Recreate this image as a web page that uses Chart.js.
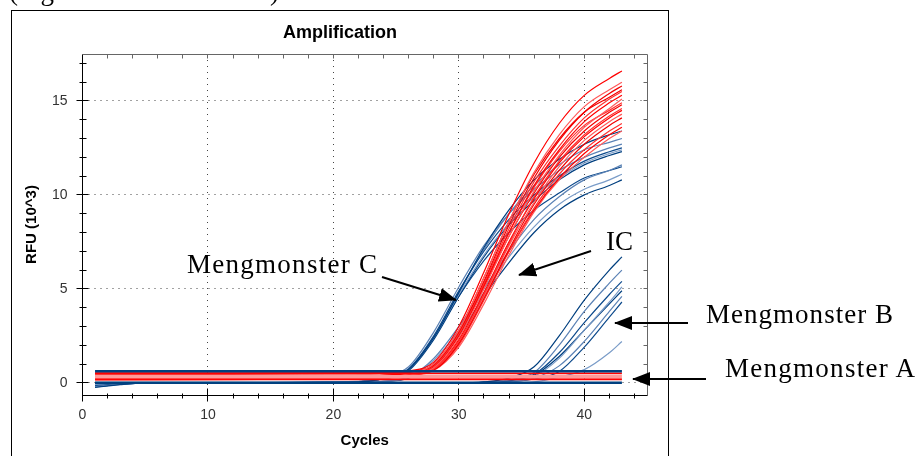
<!DOCTYPE html>
<html>
<head>
<meta charset="utf-8">
<title>Amplification</title>
<script src="https://cdn.jsdelivr.net/npm/chart.js@4.4.1/dist/chart.umd.min.js"></script>
<style>
  html, body { margin: 0; padding: 0; background: #fff; }
  #wrap { position: relative; width: 916px; height: 456px; overflow: hidden; }
  #frame { position: absolute; left: 11px; top: 10px; width: 656px; height: 470px; border: 1px solid #000; }
  #ampChart { position: absolute; left: 0; top: 0; }
  #notes { position: absolute; left: 0; top: 0; }
</style>
</head>
<body>
<div id="wrap">
  <div id="frame"></div>
  <canvas id="ampChart" width="916" height="456"></canvas>
  <svg id="notes" width="916" height="456">
    <defs>
      <marker id="head" viewBox="0 0 18 14" markerWidth="18" markerHeight="14" refX="17" refY="7" orient="auto" markerUnits="userSpaceOnUse">
        <path d="M0,0 L18,7 L0,14 Z" fill="#000"/>
      </marker>
    </defs>
    <g font-family="'Liberation Serif', 'Times New Roman', serif" font-size="27" fill="#000">
      <text x="9" y="0">(Figure</text>
      <text x="270" y="0">)</text>
      <text x="187" y="273" textLength="190" lengthAdjust="spacing">Mengmonster C</text>
      <text x="606" y="250">IC</text>
      <text x="706" y="323" textLength="187" lengthAdjust="spacing">Mengmonster B</text>
      <text x="725" y="377" textLength="190" lengthAdjust="spacing">Mengmonster A</text>
    </g>
    <g stroke="#000" stroke-width="2">
      <line x1="382" y1="277" x2="456" y2="300" marker-end="url(#head)"/>
      <line x1="591" y1="251" x2="519" y2="275" marker-end="url(#head)"/>
      <line x1="688" y1="323" x2="615" y2="323" marker-end="url(#head)"/>
      <line x1="706" y1="379" x2="633" y2="379" marker-end="url(#head)"/>
    </g>
  </svg>
</div>

<script>
// Axis tick labels
const xTickLabels = [0, 10, 20, 30, 40];
const yTickLabels = [0, 5, 10, 15];

const cyclesMain = [1, 12, 22, 24, 26, 28, 30, 32, 34, 36, 38, 40, 42, 43];
const cyclesB = [1, 3, 5, 30, 32, 34, 36, 38, 40, 42, 43];
const cyclesFlat = [1, 43];

// IC (internal control) curves, RFU x 10^3
const icCurves = [
    [0.50, 0.50, 0.51, 0.52, 0.62, 1.1, 3.0, 5.9, 9.0, 11.7, 13.8, 15.3, 16.2, 16.6],
    [0.20, 0.22, 0.25, 0.28, 0.48, 1.0, 2.8, 5.6, 8.6, 11.2, 13.2, 14.7, 15.6, 16.0],
    [0.48, 0.48, 0.50, 0.51, 0.58, 0.95, 2.7, 5.4, 8.4, 10.9, 12.9, 14.4, 15.4, 15.8],
    [0.18, 0.20, 0.24, 0.27, 0.45, 0.9, 2.6, 5.3, 8.2, 10.7, 12.6, 14.1, 15.1, 15.5],
    [0.50, 0.50, 0.51, 0.52, 0.60, 0.95, 2.6, 5.2, 8.0, 10.5, 12.4, 13.9, 14.9, 15.3],
    [0.15, 0.17, 0.21, 0.24, 0.42, 0.8, 2.4, 5.0, 7.8, 10.2, 12.1, 13.6, 14.6, 15.1],
    [0.47, 0.47, 0.49, 0.50, 0.56, 0.85, 2.5, 5.1, 7.8, 10.1, 12.0, 13.4, 14.4, 14.8],
    [0.22, 0.23, 0.26, 0.28, 0.42, 0.75, 2.2, 4.7, 7.4, 9.9, 11.8, 13.2, 14.2, 14.6],
    [0.50, 0.50, 0.51, 0.52, 0.57, 0.8, 2.3, 4.8, 7.5, 9.8, 11.7, 13.1, 14.1, 14.5],
    [0.16, 0.18, 0.22, 0.25, 0.40, 0.75, 2.2, 4.6, 7.3, 9.6, 11.5, 12.9, 13.9, 14.3],
    [0.49, 0.49, 0.50, 0.51, 0.55, 0.7, 2.1, 4.5, 7.1, 9.5, 11.3, 12.7, 13.7, 14.1],
    [0.24, 0.25, 0.27, 0.29, 0.40, 0.7, 2.0, 4.4, 7.0, 9.3, 11.1, 12.4, 13.4, 13.8],
    [0.36, 0.37, 0.38, 0.40, 0.48, 0.72, 2.1, 4.5, 7.0, 9.2, 10.9, 12.2, 13.2, 13.6],
    [0.19, 0.20, 0.23, 0.26, 0.38, 0.65, 1.9, 4.2, 6.8, 9.1, 10.8, 12.0, 13.0, 13.4],
    [0.37, 0.37, 0.39, 0.41, 0.52, 1.0, 2.8, 5.6, 8.6, 11.1, 13.0, 14.4, 15.2, 15.6],
    [0.51, 0.51, 0.52, 0.53, 0.60, 0.9, 2.6, 5.2, 8.0, 10.4, 12.3, 13.7, 14.5, 14.9]
];

// Mengmonster C curves
const mengCCurves = [
    [0.00, 0.00, 0.05, 0.22, 0.70, 2.4, 4.8, 7.2, 9.2, 10.8, 11.9, 12.7, 13.2, 13.4],
    [0.02, 0.02, 0.08, 0.30, 0.85, 2.7, 5.1, 7.3, 9.0, 10.3, 11.3, 12.0, 12.5, 12.7],
    [0.00, 0.01, 0.06, 0.25, 0.75, 2.5, 4.9, 7.0, 8.7, 10.0, 11.0, 11.8, 12.3, 12.5],
    [0.01, 0.01, 0.05, 0.22, 0.70, 2.4, 4.7, 6.8, 8.5, 9.9, 10.9, 11.7, 12.2, 12.4],
    [0.00, 0.00, 0.05, 0.20, 0.65, 2.3, 4.6, 6.7, 8.4, 9.7, 10.8, 11.6, 12.1, 12.3],
    [0.00, 0.00, 0.03, 0.08, 0.30, 1.3, 3.0, 5.0, 7.0, 8.7, 9.9, 10.8, 11.3, 11.6],
    [0.01, 0.01, 0.05, 0.22, 0.70, 2.4, 4.6, 6.5, 8.0, 9.2, 10.1, 10.9, 11.3, 11.5],
    [0.00, 0.00, 0.03, 0.08, 0.30, 1.2, 2.8, 4.8, 6.7, 8.3, 9.5, 10.3, 10.8, 11.1],
    [0.00, 0.00, 0.02, 0.07, 0.25, 1.0, 2.5, 4.6, 6.4, 8.0, 9.2, 10.0, 10.5, 10.8],
    [0.00, 0.00, 0.05, 0.22, 0.70, 2.4, 4.8, 7.1, 9.0, 10.5, 11.6, 12.4, 12.8, 13.0]
];

// Mengmonster B curves
const mengBCurves = [
    [-0.25, -0.10, -0.02, 0.00, 0.05, 0.25, 0.85, 2.5, 4.4, 6.0, 6.7],
    [-0.20, -0.08, -0.02, 0.00, 0.03, 0.15, 0.55, 2.0, 3.8, 5.3, 6.0],
    [-0.15, -0.06, -0.01, 0.00, 0.02, 0.12, 0.45, 1.6, 3.2, 4.7, 5.4],
    [-0.10, -0.04, 0.00, 0.00, 0.02, 0.10, 0.35, 1.3, 2.8, 4.3, 5.1],
    [-0.22, -0.09, -0.02, 0.00, 0.02, 0.10, 0.40, 1.4, 2.8, 4.2, 4.9],
    [-0.18, -0.07, -0.01, 0.00, 0.01, 0.05, 0.25, 0.9, 2.2, 3.8, 4.6],
    [-0.05, -0.02, 0.00, 0.00, 0.01, 0.05, 0.20, 0.6, 1.9, 3.5, 4.3],
    [-0.12, -0.05, -0.01, 0.00, 0.00, 0.00, 0.05, 0.3, 0.7, 1.6, 2.2]
];

// Mengmonster A (flat, no amplification)
const mengABlue = [0.62, 0.0];
const mengARed = [0.5, 0.18];
const mengAPink = [0.36, 0.26];

const blues = ['#003f7f', '#5b82b5', '#0d4a8c', '#7a9cc8'];
const reds = ['#ff0000', '#ff5a5a', '#f20000', '#ff3030'];
const sansFont = "'Liberation Sans', Arial, sans-serif";

function makeLine(xs, ys, color, width) {
    return {
        data: xs.map((x, i) => ({ x: x, y: ys[i] })),
        borderColor: color,
        borderWidth: width,
        pointRadius: 0,
        fill: false,
        cubicInterpolationMode: 'monotone'
    };
}

function flatLine(level, color, width) {
    return makeLine(cyclesFlat, cyclesFlat.map(() => level), color, width);
}

// datasets listed top-most first (Chart.js draws index 0 last)
const datasets = [];
mengABlue.forEach(v => datasets.push(flatLine(v, '#00407f', 2.5)));
mengARed.forEach(v => datasets.push(flatLine(v, '#ff0000', 1.8)));
mengAPink.forEach(v => datasets.push(flatLine(v, '#ff9a9a', 1.8)));
mengBCurves.forEach((ys, i) => datasets.push(makeLine(cyclesB, ys, blues[i % 4], 1.2)));
icCurves.forEach((ys, i) => datasets.push(makeLine(cyclesMain, ys, reds[i % 4], 1.2)));
mengCCurves.forEach((ys, i) => datasets.push(makeLine(cyclesMain, ys, blues[i % 4], 1.2)));

function strokeLine(ctx, x1, y1, x2, y2) {
    ctx.beginPath();
    ctx.moveTo(x1, y1);
    ctx.lineTo(x2, y2);
    ctx.stroke();
}

// dotted grid, plot border and tick marks
const axesFrame = {
    id: 'axesFrame',
    beforeDatasetsDraw(chart) {
        const { ctx, chartArea: a, scales: { x, y } } = chart;
        ctx.save();
        ctx.strokeStyle = '#444';
        ctx.lineWidth = 1;
        ctx.setLineDash([1, 5]);
        xTickLabels.forEach(v => {
            if (v === 0) return;
            const px = Math.floor(x.getPixelForValue(v)) + 0.5;
            strokeLine(ctx, px, a.top, px, a.bottom);
        });
        yTickLabels.forEach(v => {
            const py = Math.floor(y.getPixelForValue(v)) + 0.5;
            strokeLine(ctx, a.left, py, a.right, py);
        });
        ctx.restore();
    },
    afterDatasetsDraw(chart) {
        const { ctx, chartArea: a, scales: { x, y } } = chart;
        const L = Math.floor(a.left) + 0.5, R = Math.floor(a.right) + 0.5;
        const T = Math.floor(a.top) + 0.5, B = Math.floor(a.bottom) + 0.5;
        ctx.save();
        ctx.lineWidth = 1;
        ctx.strokeStyle = '#666';
        strokeLine(ctx, L, T, R, T);
        strokeLine(ctx, R, T, R, B);
        for (let c = 2; c < 45; c += 2) {
            const px = Math.floor(x.getPixelForValue(c)) + 0.5;
            strokeLine(ctx, px, T, px, T + 4);
        }
        for (let v = 0; v <= 17; v++) {
            const py = Math.floor(y.getPixelForValue(v)) + 0.5;
            strokeLine(ctx, R - 4, py, R, py);
        }
        ctx.strokeStyle = '#000';
        strokeLine(ctx, L, T, L, B + 1);
        strokeLine(ctx, L, B, R, B);
        for (let v = 0; v <= 17; v++) {
            const py = Math.floor(y.getPixelForValue(v)) + 0.5;
            if (v % 5 === 0) strokeLine(ctx, L - 6, py, L + 6, py);
            else strokeLine(ctx, L - 3, py, L + 4, py);
        }
        for (let c = 0; c < 45; c += 2) {
            const px = Math.floor(x.getPixelForValue(c)) + 0.5;
            if (c % 10 === 0) strokeLine(ctx, px, B - 7, px, B + 6);
            else strokeLine(ctx, px, B - 2, px, B + 3);
        }
        ctx.restore();
    }
};

new Chart(document.getElementById('ampChart'), {
    type: 'line',
    data: { datasets: datasets },
    options: {
        responsive: false,
        animation: false,
        devicePixelRatio: 1,
        layout: { padding: { left: 12, top: 10, right: 248, bottom: 0 } },
        plugins: {
            legend: { display: false },
            tooltip: { enabled: false },
            title: {
                display: true,
                text: 'Amplification',
                color: '#000',
                font: { family: sansFont, size: 18, weight: 'bold' },
                padding: { top: 12, bottom: 10.4 }
            }
        },
        scales: {
            x: {
                type: 'linear',
                min: 0,
                max: 45,
                afterBuildTicks: s => { s.ticks = xTickLabels.map(v => ({ value: v })); },
                afterFit: s => { s.height = 61; },
                grid: { display: false, drawTicks: false },
                border: { display: false },
                ticks: { color: '#333', font: { family: sansFont, size: 14 }, padding: 11.6, autoSkip: false, maxRotation: 0 },
                title: { display: true, text: 'Cycles', color: '#000', font: { family: sansFont, size: 15, weight: 'bold' }, padding: { top: 0, bottom: 6 } }
            },
            y: {
                type: 'linear',
                min: -0.65,
                max: 17.5,
                afterBuildTicks: s => { s.ticks = yTickLabels.map(v => ({ value: v })); },
                afterFit: s => { s.width = 70.5; },
                grid: { display: false, drawTicks: false },
                border: { display: false },
                ticks: { color: '#333', font: { family: sansFont, size: 14 }, padding: 15, autoSkip: false },
                title: { display: true, text: 'RFU (10^3)', color: '#000', font: { family: sansFont, size: 15, weight: 'bold' }, padding: { top: 11, bottom: 0 } }
            },
            yRight: {
                type: 'linear',
                position: 'right',
                afterFit: s => { s.width = 21; },
                grid: { display: false, drawTicks: false },
                border: { display: false },
                ticks: { display: false }
            }
        }
    },
    plugins: [axesFrame]
});
</script>
</body>
</html>
